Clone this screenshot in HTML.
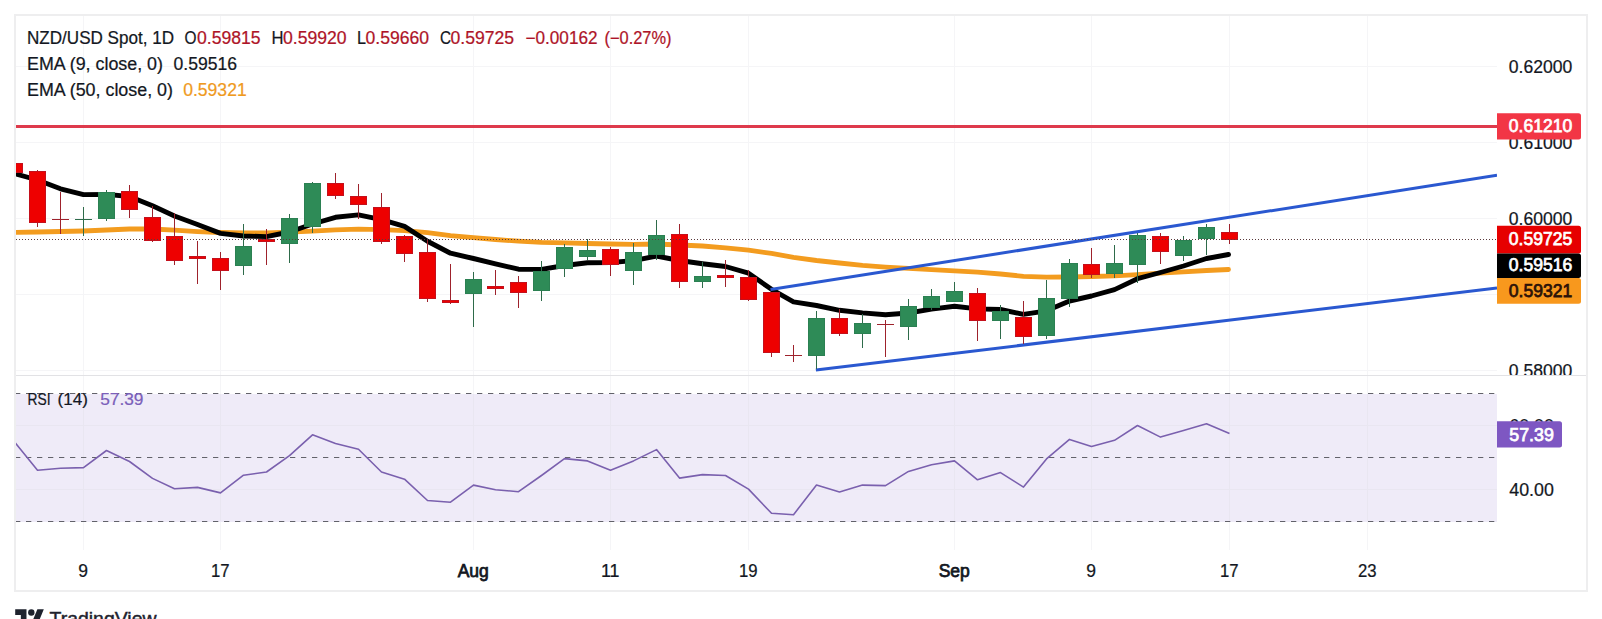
<!DOCTYPE html>
<html><head><meta charset="utf-8"><title>NZD/USD Spot 1D</title>
<style>
html,body{margin:0;padding:0;background:#fff;}
body{width:1602px;height:619px;overflow:hidden;position:relative;}
svg{position:absolute;left:0;top:0;display:block;}
text{font-family:"Liberation Sans",sans-serif;}
.t{font-size:17.5px;fill:#131722;stroke:#131722;stroke-width:0.22px;}
.a{font-size:18px;}
.b{stroke-width:0.75px;}
</style></head><body>
<svg width="1602" height="619" viewBox="0 0 1602 619">
<rect x="0" y="0" width="1602" height="619" fill="#ffffff"/>
<defs>
<clipPath id="cm"><rect x="16" y="16" width="1481" height="359"/></clipPath>
<clipPath id="cr"><rect x="16" y="376" width="1481" height="174"/></clipPath>
<clipPath id="cax"><rect x="1497" y="16" width="90" height="359"/></clipPath>
</defs>
<g shape-rendering="crispEdges" stroke="#F5F5F7" stroke-width="1">
<line x1="83.5" y1="16" x2="83.5" y2="550"/>
<line x1="220.5" y1="16" x2="220.5" y2="550"/>
<line x1="473.5" y1="16" x2="473.5" y2="550"/>
<line x1="610.5" y1="16" x2="610.5" y2="550"/>
<line x1="748.5" y1="16" x2="748.5" y2="550"/>
<line x1="954.5" y1="16" x2="954.5" y2="550"/>
<line x1="1091.5" y1="16" x2="1091.5" y2="550"/>
<line x1="1229.5" y1="16" x2="1229.5" y2="550"/>
<line x1="1367.5" y1="16" x2="1367.5" y2="550"/>
<line x1="16" y1="66.5" x2="1497" y2="66.5"/>
<line x1="16" y1="142.5" x2="1497" y2="142.5"/>
<line x1="16" y1="218.5" x2="1497" y2="218.5"/>
<line x1="16" y1="294.5" x2="1497" y2="294.5"/>
<line x1="16" y1="370.5" x2="1497" y2="370.5"/>
</g>
<rect x="16" y="393.5" width="1481" height="128" fill="#EFEBF8" shape-rendering="crispEdges"/>
<g shape-rendering="crispEdges" stroke="#E9E6F1" stroke-width="1">
<line x1="83.5" y1="394" x2="83.5" y2="521"/>
<line x1="220.5" y1="394" x2="220.5" y2="521"/>
<line x1="473.5" y1="394" x2="473.5" y2="521"/>
<line x1="610.5" y1="394" x2="610.5" y2="521"/>
<line x1="748.5" y1="394" x2="748.5" y2="521"/>
<line x1="954.5" y1="394" x2="954.5" y2="521"/>
<line x1="1091.5" y1="394" x2="1091.5" y2="521"/>
<line x1="1229.5" y1="394" x2="1229.5" y2="521"/>
<line x1="1367.5" y1="394" x2="1367.5" y2="521"/>
<line x1="16" y1="425.5" x2="1497" y2="425.5"/>
<line x1="16" y1="489.5" x2="1497" y2="489.5"/>
</g>
<g stroke="#62626A" stroke-width="1.05" stroke-dasharray="5.3 5.7" fill="none">
<line x1="15" y1="393.5" x2="1495" y2="393.5"/>
<line x1="15" y1="457.5" x2="1495" y2="457.5"/>
<line x1="15" y1="521.5" x2="1495" y2="521.5"/>
</g>
<g shape-rendering="crispEdges" fill="none">
<rect x="15" y="15" width="1572" height="576" stroke="#EEEEEF" stroke-width="2"/>
<line x1="16" y1="375.5" x2="1586" y2="375.5" stroke="#E2E2E5" stroke-width="1"/>
</g>
<g clip-path="url(#cm)">
<line x1="16" y1="126.5" x2="1497" y2="126.5" stroke="#DE3A4C" stroke-width="3"/>
<polyline points="14.5,232.4 37.5,232.0 60.5,231.5 83.5,231.0 106.5,230.0 129.5,229.0 152.5,229.0 174.5,230.2 197.5,231.6 220.5,232.5 243.5,232.9 266.5,233.0 289.5,232.2 312.5,231.2 335.5,229.9 358.5,229.2 381.5,229.7 404.5,230.6 427.5,232.7 450.5,235.6 473.5,237.6 495.5,239.5 518.5,241.2 541.5,242.4 564.5,242.8 587.5,243.5 610.5,244.0 633.5,244.3 656.5,244.0 679.5,245.0 702.5,246.0 725.5,247.8 748.5,250.2 771.5,253.4 793.5,257.3 816.5,260.5 839.5,263.0 862.5,265.4 885.5,267.1 908.5,268.4 931.5,269.7 954.5,270.9 977.5,272.2 1000.5,274.0 1023.5,276.3 1046.5,277.2 1069.5,277.0 1091.5,276.5 1114.5,275.9 1137.5,274.6 1160.5,273.1 1183.5,271.8 1206.5,270.5 1228.5,269.5" fill="none" stroke="#F39C1F" stroke-width="4.8" stroke-linejoin="round" stroke-linecap="round"/>
<polyline points="14.5,173.5 37.5,180.0 60.5,188.8 83.5,194.6 106.5,194.4 129.5,196.5 152.5,205.8 174.5,216.0 197.5,224.5 220.5,233.4 243.5,236.0 266.5,236.6 289.5,232.0 312.5,224.0 335.5,217.3 358.5,214.9 381.5,219.7 404.5,226.4 427.5,241.3 450.5,253.2 473.5,258.5 495.5,263.9 518.5,269.2 541.5,269.4 564.5,265.5 587.5,262.8 610.5,262.5 633.5,260.6 656.5,256.0 679.5,260.5 702.5,263.7 725.5,266.5 748.5,273.2 771.5,289.3 793.5,301.8 816.5,305.5 839.5,310.3 862.5,312.9 885.5,314.8 908.5,313.0 931.5,309.1 954.5,306.3 977.5,308.9 1000.5,309.5 1023.5,314.3 1046.5,310.8 1069.5,301.0 1091.5,296.0 1114.5,289.6 1137.5,278.7 1160.5,272.5 1183.5,266.0 1206.5,258.5 1228.5,254.5" fill="none" stroke="#000000" stroke-width="4.9" stroke-linejoin="round" stroke-linecap="round"/>
<line x1="770.5" y1="289.5" x2="1497" y2="175.2" stroke="#2A58D0" stroke-width="3"/>
<line x1="815.9" y1="370" x2="1497" y2="287.9" stroke="#2A58D0" stroke-width="3"/>
<g shape-rendering="crispEdges">
<rect x="14" y="163" width="1" height="10" fill="#9E222C"/>
<rect x="6" y="163" width="17" height="10" fill="#C4101C"/>
<rect x="7" y="164" width="15" height="8" fill="#EE0000"/>
<rect x="37" y="170" width="1" height="57" fill="#9E222C"/>
<rect x="29" y="171" width="17" height="52" fill="#C4101C"/>
<rect x="30" y="172" width="15" height="50" fill="#EE0000"/>
<rect x="60" y="192" width="1" height="42" fill="#9E222C"/>
<rect x="52" y="219" width="17" height="1" fill="#9E222C"/>
<rect x="83" y="207" width="1" height="29" fill="#2E6B4A"/>
<rect x="75" y="219" width="17" height="1" fill="#2E6B4A"/>
<rect x="106" y="190" width="1" height="31" fill="#2E6B4A"/>
<rect x="98" y="192" width="17" height="27" fill="#2B8052"/>
<rect x="99" y="193" width="15" height="25" fill="#2E8B57"/>
<rect x="129" y="185" width="1" height="33" fill="#9E222C"/>
<rect x="121" y="191" width="17" height="19" fill="#C4101C"/>
<rect x="122" y="192" width="15" height="17" fill="#EE0000"/>
<rect x="152" y="206" width="1" height="36" fill="#9E222C"/>
<rect x="144" y="217" width="17" height="24" fill="#C4101C"/>
<rect x="145" y="218" width="15" height="22" fill="#EE0000"/>
<rect x="174" y="213" width="1" height="52" fill="#9E222C"/>
<rect x="166" y="236" width="17" height="25" fill="#C4101C"/>
<rect x="167" y="237" width="15" height="23" fill="#EE0000"/>
<rect x="197" y="241" width="1" height="43" fill="#9E222C"/>
<rect x="189" y="256" width="17" height="3" fill="#C4101C"/>
<rect x="190" y="257" width="15" height="1" fill="#EE0000"/>
<rect x="220" y="252" width="1" height="38" fill="#9E222C"/>
<rect x="212" y="258" width="17" height="13" fill="#C4101C"/>
<rect x="213" y="259" width="15" height="11" fill="#EE0000"/>
<rect x="243" y="224" width="1" height="51" fill="#2E6B4A"/>
<rect x="235" y="246" width="17" height="20" fill="#2B8052"/>
<rect x="236" y="247" width="15" height="18" fill="#2E8B57"/>
<rect x="266" y="229" width="1" height="36" fill="#9E222C"/>
<rect x="258" y="239" width="17" height="3" fill="#C4101C"/>
<rect x="259" y="240" width="15" height="1" fill="#EE0000"/>
<rect x="289" y="214" width="1" height="49" fill="#2E6B4A"/>
<rect x="281" y="218" width="17" height="26" fill="#2B8052"/>
<rect x="282" y="219" width="15" height="24" fill="#2E8B57"/>
<rect x="312" y="182" width="1" height="51" fill="#2E6B4A"/>
<rect x="304" y="183" width="17" height="44" fill="#2B8052"/>
<rect x="305" y="184" width="15" height="42" fill="#2E8B57"/>
<rect x="335" y="173" width="1" height="26" fill="#9E222C"/>
<rect x="327" y="183" width="17" height="13" fill="#C4101C"/>
<rect x="328" y="184" width="15" height="11" fill="#EE0000"/>
<rect x="358" y="184" width="1" height="35" fill="#9E222C"/>
<rect x="350" y="196" width="17" height="9" fill="#C4101C"/>
<rect x="351" y="197" width="15" height="7" fill="#EE0000"/>
<rect x="381" y="193" width="1" height="51" fill="#9E222C"/>
<rect x="373" y="207" width="17" height="35" fill="#C4101C"/>
<rect x="374" y="208" width="15" height="33" fill="#EE0000"/>
<rect x="404" y="235" width="1" height="27" fill="#9E222C"/>
<rect x="396" y="236" width="17" height="18" fill="#C4101C"/>
<rect x="397" y="237" width="15" height="16" fill="#EE0000"/>
<rect x="427" y="240" width="1" height="62" fill="#9E222C"/>
<rect x="419" y="252" width="17" height="47" fill="#C4101C"/>
<rect x="420" y="253" width="15" height="45" fill="#EE0000"/>
<rect x="450" y="264" width="1" height="40" fill="#9E222C"/>
<rect x="442" y="300" width="17" height="3" fill="#C4101C"/>
<rect x="443" y="301" width="15" height="1" fill="#EE0000"/>
<rect x="473" y="272" width="1" height="55" fill="#2E6B4A"/>
<rect x="465" y="279" width="17" height="15" fill="#2B8052"/>
<rect x="466" y="280" width="15" height="13" fill="#2E8B57"/>
<rect x="495" y="270" width="1" height="25" fill="#9E222C"/>
<rect x="487" y="286" width="17" height="3" fill="#C4101C"/>
<rect x="488" y="287" width="15" height="1" fill="#EE0000"/>
<rect x="518" y="276" width="1" height="32" fill="#9E222C"/>
<rect x="510" y="282" width="17" height="11" fill="#C4101C"/>
<rect x="511" y="283" width="15" height="9" fill="#EE0000"/>
<rect x="541" y="261" width="1" height="40" fill="#2E6B4A"/>
<rect x="533" y="271" width="17" height="20" fill="#2B8052"/>
<rect x="534" y="272" width="15" height="18" fill="#2E8B57"/>
<rect x="564" y="244" width="1" height="33" fill="#2E6B4A"/>
<rect x="556" y="247" width="17" height="22" fill="#2B8052"/>
<rect x="557" y="248" width="15" height="20" fill="#2E8B57"/>
<rect x="587" y="239" width="1" height="21" fill="#2E6B4A"/>
<rect x="579" y="250" width="17" height="7" fill="#2B8052"/>
<rect x="580" y="251" width="15" height="5" fill="#2E8B57"/>
<rect x="610" y="247" width="1" height="29" fill="#9E222C"/>
<rect x="602" y="249" width="17" height="16" fill="#C4101C"/>
<rect x="603" y="250" width="15" height="14" fill="#EE0000"/>
<rect x="633" y="243" width="1" height="42" fill="#2E6B4A"/>
<rect x="625" y="252" width="17" height="19" fill="#2B8052"/>
<rect x="626" y="253" width="15" height="17" fill="#2E8B57"/>
<rect x="656" y="220" width="1" height="40" fill="#2E6B4A"/>
<rect x="648" y="235" width="17" height="20" fill="#2B8052"/>
<rect x="649" y="236" width="15" height="18" fill="#2E8B57"/>
<rect x="679" y="224" width="1" height="64" fill="#9E222C"/>
<rect x="671" y="234" width="17" height="48" fill="#C4101C"/>
<rect x="672" y="235" width="15" height="46" fill="#EE0000"/>
<rect x="702" y="262" width="1" height="26" fill="#2E6B4A"/>
<rect x="694" y="276" width="17" height="6" fill="#2B8052"/>
<rect x="695" y="277" width="15" height="4" fill="#2E8B57"/>
<rect x="725" y="260" width="1" height="27" fill="#9E222C"/>
<rect x="717" y="275" width="17" height="3" fill="#C4101C"/>
<rect x="718" y="276" width="15" height="1" fill="#EE0000"/>
<rect x="748" y="270" width="1" height="31" fill="#9E222C"/>
<rect x="740" y="277" width="17" height="23" fill="#C4101C"/>
<rect x="741" y="278" width="15" height="21" fill="#EE0000"/>
<rect x="771" y="292" width="1" height="65" fill="#9E222C"/>
<rect x="763" y="292" width="17" height="61" fill="#C4101C"/>
<rect x="764" y="293" width="15" height="59" fill="#EE0000"/>
<rect x="793" y="345" width="1" height="17" fill="#9E222C"/>
<rect x="785" y="355" width="17" height="1" fill="#9E222C"/>
<rect x="816" y="311" width="1" height="58" fill="#2E6B4A"/>
<rect x="808" y="318" width="17" height="38" fill="#2B8052"/>
<rect x="809" y="319" width="15" height="36" fill="#2E8B57"/>
<rect x="839" y="309" width="1" height="27" fill="#9E222C"/>
<rect x="831" y="318" width="17" height="16" fill="#C4101C"/>
<rect x="832" y="319" width="15" height="14" fill="#EE0000"/>
<rect x="862" y="314" width="1" height="34" fill="#2E6B4A"/>
<rect x="854" y="323" width="17" height="11" fill="#2B8052"/>
<rect x="855" y="324" width="15" height="9" fill="#2E8B57"/>
<rect x="885" y="320" width="1" height="37" fill="#9E222C"/>
<rect x="877" y="324" width="17" height="1" fill="#9E222C"/>
<rect x="908" y="299" width="1" height="41" fill="#2E6B4A"/>
<rect x="900" y="306" width="17" height="21" fill="#2B8052"/>
<rect x="901" y="307" width="15" height="19" fill="#2E8B57"/>
<rect x="931" y="289" width="1" height="21" fill="#2E6B4A"/>
<rect x="923" y="296" width="17" height="12" fill="#2B8052"/>
<rect x="924" y="297" width="15" height="10" fill="#2E8B57"/>
<rect x="954" y="282" width="1" height="20" fill="#2E6B4A"/>
<rect x="946" y="291" width="17" height="11" fill="#2B8052"/>
<rect x="947" y="292" width="15" height="9" fill="#2E8B57"/>
<rect x="977" y="288" width="1" height="53" fill="#9E222C"/>
<rect x="969" y="293" width="17" height="28" fill="#C4101C"/>
<rect x="970" y="294" width="15" height="26" fill="#EE0000"/>
<rect x="1000" y="305" width="1" height="34" fill="#2E6B4A"/>
<rect x="992" y="311" width="17" height="10" fill="#2B8052"/>
<rect x="993" y="312" width="15" height="8" fill="#2E8B57"/>
<rect x="1023" y="301" width="1" height="43" fill="#9E222C"/>
<rect x="1015" y="317" width="17" height="20" fill="#C4101C"/>
<rect x="1016" y="318" width="15" height="18" fill="#EE0000"/>
<rect x="1046" y="280" width="1" height="59" fill="#2E6B4A"/>
<rect x="1038" y="298" width="17" height="38" fill="#2B8052"/>
<rect x="1039" y="299" width="15" height="36" fill="#2E8B57"/>
<rect x="1069" y="259" width="1" height="48" fill="#2E6B4A"/>
<rect x="1061" y="263" width="17" height="36" fill="#2B8052"/>
<rect x="1062" y="264" width="15" height="34" fill="#2E8B57"/>
<rect x="1091" y="248" width="1" height="30" fill="#9E222C"/>
<rect x="1083" y="264" width="17" height="11" fill="#C4101C"/>
<rect x="1084" y="265" width="15" height="9" fill="#EE0000"/>
<rect x="1114" y="245" width="1" height="33" fill="#2E6B4A"/>
<rect x="1106" y="263" width="17" height="11" fill="#2B8052"/>
<rect x="1107" y="264" width="15" height="9" fill="#2E8B57"/>
<rect x="1137" y="233" width="1" height="50" fill="#2E6B4A"/>
<rect x="1129" y="235" width="17" height="30" fill="#2B8052"/>
<rect x="1130" y="236" width="15" height="28" fill="#2E8B57"/>
<rect x="1160" y="233" width="1" height="31" fill="#9E222C"/>
<rect x="1152" y="236" width="17" height="16" fill="#C4101C"/>
<rect x="1153" y="237" width="15" height="14" fill="#EE0000"/>
<rect x="1183" y="236" width="1" height="25" fill="#2E6B4A"/>
<rect x="1175" y="240" width="17" height="16" fill="#2B8052"/>
<rect x="1176" y="241" width="15" height="14" fill="#2E8B57"/>
<rect x="1206" y="224" width="1" height="31" fill="#2E6B4A"/>
<rect x="1198" y="227" width="17" height="12" fill="#2B8052"/>
<rect x="1199" y="228" width="15" height="10" fill="#2E8B57"/>
<rect x="1229" y="224" width="1" height="20" fill="#9E222C"/>
<rect x="1221" y="232" width="17" height="8" fill="#C4101C"/>
<rect x="1222" y="233" width="15" height="6" fill="#EE0000"/>
</g>
<line x1="16" y1="239.5" x2="1497" y2="239.5" stroke="#5A3A3C" stroke-width="1" stroke-dasharray="1 2" shape-rendering="crispEdges"/>
</g>
<g clip-path="url(#cr)">
<polyline points="14.5,442.0 37.5,470.2 60.5,468.2 83.5,467.6 106.5,450.5 129.5,461.5 152.5,478.4 174.5,488.8 197.5,487.4 220.5,492.9 243.5,475.2 266.5,472.0 289.5,455.7 312.5,434.8 335.5,443.5 358.5,449.3 381.5,472.0 404.5,479.2 427.5,500.5 450.5,502.2 473.5,485.1 495.5,489.7 518.5,491.7 541.5,475.5 564.5,458.6 587.5,460.9 610.5,470.2 633.5,460.9 656.5,449.6 679.5,478.1 702.5,474.6 725.5,475.5 748.5,489.1 771.5,513.3 793.5,514.7 816.5,485.1 839.5,492.0 862.5,485.1 885.5,485.6 908.5,471.4 931.5,464.7 954.5,460.9 977.5,479.8 1000.5,472.6 1023.5,487.1 1046.5,458.9 1069.5,439.4 1091.5,446.4 1114.5,440.3 1137.5,425.5 1160.5,437.1 1183.5,430.4 1206.5,423.7 1229.5,433.6" fill="none" stroke="#7A60AE" stroke-width="1.6" stroke-linejoin="round"/>
</g>
<text x="27" y="43.6" class="t" textLength="147" lengthAdjust="spacingAndGlyphs">NZD/USD Spot, 1D</text>
<text x="184.5" y="43.6" class="t" textLength="12" lengthAdjust="spacingAndGlyphs">O</text>
<text x="197" y="43.6" class="t" textLength="63.5" lengthAdjust="spacingAndGlyphs" style="fill:#AE1428;stroke:#AE1428;">0.59815</text>
<text x="271.5" y="43.6" class="t" textLength="12" lengthAdjust="spacingAndGlyphs">H</text>
<text x="283" y="43.6" class="t" textLength="63.5" lengthAdjust="spacingAndGlyphs" style="fill:#AE1428;stroke:#AE1428;">0.59920</text>
<text x="357" y="43.6" class="t" textLength="9" lengthAdjust="spacingAndGlyphs">L</text>
<text x="365.5" y="43.6" class="t" textLength="63.5" lengthAdjust="spacingAndGlyphs" style="fill:#AE1428;stroke:#AE1428;">0.59660</text>
<text x="440" y="43.6" class="t" textLength="11" lengthAdjust="spacingAndGlyphs">C</text>
<text x="450.5" y="43.6" class="t" textLength="63.5" lengthAdjust="spacingAndGlyphs" style="fill:#AE1428;stroke:#AE1428;">0.59725</text>
<text x="525.5" y="43.6" class="t" textLength="72" lengthAdjust="spacingAndGlyphs" style="fill:#AE1428;stroke:#AE1428;">−0.00162</text>
<text x="604.5" y="43.6" class="t" textLength="67" lengthAdjust="spacingAndGlyphs" style="fill:#AE1428;stroke:#AE1428;">(−0.27%)</text>
<text x="27" y="69.7" class="t" textLength="136" lengthAdjust="spacingAndGlyphs">EMA (9, close, 0)</text>
<text x="173.5" y="69.7" class="t" textLength="63.5" lengthAdjust="spacingAndGlyphs">0.59516</text>
<text x="27" y="95.5" class="t" textLength="146" lengthAdjust="spacingAndGlyphs">EMA (50, close, 0)</text>
<text x="183.2" y="95.5" class="t" textLength="63.5" lengthAdjust="spacingAndGlyphs" style="fill:#EF9A1E;stroke:#EF9A1E;">0.59321</text>
<text x="27.6" y="404.7" class="t" textLength="23" lengthAdjust="spacingAndGlyphs" style="font-size:17px;">RSI</text>
<text x="57.6" y="404.7" class="t" textLength="30.3" lengthAdjust="spacingAndGlyphs" style="font-size:17px;">(14)</text>
<text x="100.2" y="404.7" class="t" textLength="43.3" lengthAdjust="spacingAndGlyphs" style="fill:#7B5FBA;stroke:#7B5FBA;font-size:17px;">57.39</text>
<g clip-path="url(#cax)">
<text x="1508.8" y="72.8" class="t a" textLength="63.5" lengthAdjust="spacingAndGlyphs">0.62000</text>
<text x="1508.8" y="148.8" class="t a" textLength="63.5" lengthAdjust="spacingAndGlyphs">0.61000</text>
<text x="1508.8" y="224.8" class="t a" textLength="63.5" lengthAdjust="spacingAndGlyphs">0.60000</text>
<text x="1508.8" y="300.8" class="t a" textLength="63.5" lengthAdjust="spacingAndGlyphs">0.59000</text>
<text x="1508.8" y="376.8" class="t a" textLength="63.5" lengthAdjust="spacingAndGlyphs">0.58000</text>
</g>
<text x="1509.3" y="431.8" class="t a" textLength="44.5" lengthAdjust="spacingAndGlyphs">60.00</text>
<text x="1509.3" y="495.8" class="t a" textLength="44.5" lengthAdjust="spacingAndGlyphs">40.00</text>
<path d="M1497,113.2 H1578.5 Q1581,113.2 1581,115.7 V137.1 Q1581,139.6 1578.5,139.6 H1497 Z" fill="#F23645"/>
<text x="1508.8" y="132.0" class="t a b" textLength="63.5" lengthAdjust="spacingAndGlyphs" style="fill:#ffffff;stroke:#ffffff;">0.61210</text>
<path d="M1497,225.8 H1578.5 Q1581,225.8 1581,228.3 V250.9 Q1581,253.4 1578.5,253.4 H1497 Z" fill="#E60000"/>
<text x="1508.8" y="245.20000000000002" class="t a b" textLength="63.5" lengthAdjust="spacingAndGlyphs" style="fill:#ffffff;stroke:#ffffff;">0.59725</text>
<path d="M1497,253.4 H1578.5 Q1581,253.4 1581,255.9 V275.5 Q1581,278 1578.5,278 H1497 Z" fill="#000000"/>
<text x="1508.8" y="271.3" class="t a b" textLength="63.5" lengthAdjust="spacingAndGlyphs" style="fill:#ffffff;stroke:#ffffff;">0.59516</text>
<path d="M1497,278 H1578.5 Q1581,278 1581,280.5 V301.3 Q1581,303.8 1578.5,303.8 H1497 Z" fill="#F8981D"/>
<text x="1508.8" y="296.5" class="t a b" textLength="63.5" lengthAdjust="spacingAndGlyphs" style="fill:#2B1208;stroke:#2B1208;">0.59321</text>
<path d="M1497,421.2 H1559.5 Q1562,421.2 1562,423.7 V445.1 Q1562,447.6 1559.5,447.6 H1497 Z" fill="#7E57C2"/>
<text x="1509.3" y="440.9" class="t a b" textLength="44.5" lengthAdjust="spacingAndGlyphs" style="fill:#ffffff;stroke:#ffffff;">57.39</text>
<text x="83.2" y="576.8" class="t" text-anchor="middle">9</text>
<text x="220.2" y="576.8" class="t" textLength="18.6" lengthAdjust="spacingAndGlyphs" text-anchor="middle">17</text>
<text x="473.2" y="576.8" class="t b" text-anchor="middle">Aug</text>
<text x="610.2" y="576.8" class="t" textLength="18.6" lengthAdjust="spacingAndGlyphs" text-anchor="middle">11</text>
<text x="748.2" y="576.8" class="t" textLength="18.6" lengthAdjust="spacingAndGlyphs" text-anchor="middle">19</text>
<text x="954.2" y="576.8" class="t b" text-anchor="middle">Sep</text>
<text x="1091.2" y="576.8" class="t" text-anchor="middle">9</text>
<text x="1229.2" y="576.8" class="t" textLength="18.6" lengthAdjust="spacingAndGlyphs" text-anchor="middle">17</text>
<text x="1367.2" y="576.8" class="t" textLength="18.6" lengthAdjust="spacingAndGlyphs" text-anchor="middle">23</text>
<g transform="translate(15.2,606.1) scale(0.806)" fill="#1E222D">
<path d="M14 22H7V11H0V4h14v18z"/><circle cx="20" cy="8" r="4"/><path d="M28 22h-8l7.5-18h8L28 22z"/>
</g>
<text x="49.5" y="624.6" style="font-size:19px;fill:#1E222D;stroke:#1E222D;stroke-width:0.45px" textLength="107" lengthAdjust="spacingAndGlyphs">TradingView</text>
</svg>
</body></html>
